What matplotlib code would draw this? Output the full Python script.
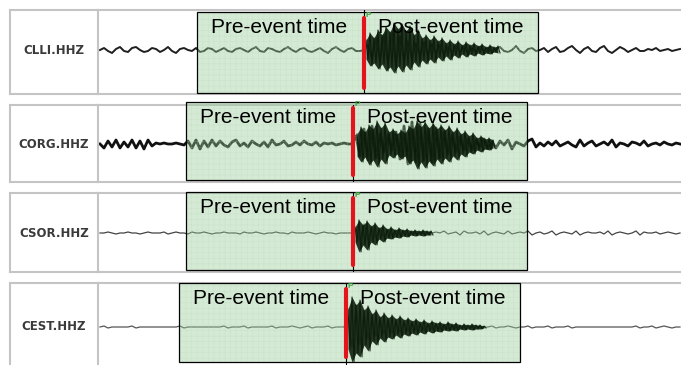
import numpy as np
import matplotlib.pyplot as plt
from matplotlib.patches import Rectangle

plt.rcParams['font.family'] = ['Liberation Sans', 'DejaVu Sans']
plt.rcParams['hatch.linewidth'] = 0.4

W, H = 681, 365

# ---- data -------------------------------------------------------------
stations = ['CLLI.HHZ', 'CORG.HHZ', 'CSOR.HHZ', 'CEST.HHZ']
dt = 1.0                                  # s per sample
pick_times = [66.0, 63.25, 63.25, 61.5]   # P pick, s after trace start
pre_window = 41.75                        # s before pick
post_window = 43.5                        # s after pick

clli = [0, 2, -1, -3, 1, 3, -1, -2, 2, 3, 0, -2, -1, 2, 1, -2, 0, 3, -1, -3, 1, 2, 0, -1, 2,
        -2, -1, 2, 1, -2, 0, 2, -1, -2, 1, 2, 0, -2, 1, 3, -1, -2, 2, 1, -1, -2, 1, 3, 0, -2,
        1, 2, -1, -2, 0, 2, -1, -3, 1, 3, 0, -2, 1, 2, -1, -1, 0,
        5, -8, 12, -10, 15, -14, 18, -16, 14, -10, 9, -8, 7, -6, 8, -5, 6, -4, 5, -4, 3, -3,
        4, -2, 3, -3, 2, -2, 3, -1, 2, -2,
        1, 3, -1, -2, 0, 4, -1, -3, 1, 2, -1, 0, 2, -2, 1, 3, -2, -1, 2, 4, 0, -3, 1, 3, -1,
        -2, 2, 4, -1, -3, 0, 3, 1, -2, 0, 2, -1, -1, 1, 0, 2, -1, 0, 1, -1, 0, 1]
corg = [0, -4, 3, -3, 4, -4, 2, -3, 4, -4, 3, -5, 4, -2, 1,
        0, 1, 0, 0, 1, 0, -1,
        3, -4, 4, -5, 3, -3, 4, -2, 3, -1, -3, 2, 4, -2,
        1, -3, 3, 0, -2, 2, -3, 4, -1, 0, 3, -2, -1, 2, -1, 3, 0, -1, 2, -2,
        1, 0, 1, -1, 0, 1, 0, 0,
        8, -12, 15, -16, 18, -14, 10, -8, 9, -6, 12, -15, 18, -20, 22, -18, 20, -16, 15, -18,
        16, -14, 12, -10, 9, -8, 7, -6, 5, -6, 4, -3, 5, -4,
        2, -4, 3, -1, 4, -5, 2, 0, -2, 3, 5, -3, 1, -2, 2, -1, 3, -2, 0, 2, -1, -3, 4, -2,
        1, 3, -2, 0, 2, -1, 4, -3, 1, 0, -2, 2, 1, -1, 3, -2, 0, 1, -1, 2, 0, -1, 1, 0]
csor = [0, 0, 1, 0, -1, 0, 0, 1, 0, 0, -1, 0, 1, 0, 0, 0, 1, -1, 0, 1, 0, 0, -1, 1, 0, 0,
        1, 0, -1, 0, 0, 1, 0, 0, 0, -1, 1, 0, 0, 1, 0, -1, 0, 0, 1, 0, 0, -1, 1, 0, 0, 0,
        1, 0, -1, 0, 1, 0, 0, -1, 0, 0, 0, 0,
        4, -8, 9, -7, 6, -5, 5, -4, 3, -3, 3, -2, 2, -2, 2, -1, 1, -1, 1, 0, 1,
        0, 2, -1, 0, 1, -2, 2, 0, 0, 1, -1, 2, -2, 0, 1, 0, -1, 2, -1, 0, 1, 0, 2, -2, 0,
        1, -1, 0, 2, -2, 0, 1, 0, -1, 2, -2, 0, 1, 0, 0, 1, -1, 2, -2, 0, 1, 0, -1, 0, 2,
        -2, 1, 0, 0, 1, -1, 0, 1, 0, -1, 0]
cest = [0, 1, -1, 0, 0, 0, 0, 0, 1, -1, 0, 0, 0, 0, 0, 0, 0, 0, 0, 0, 1, -1, 0, 0, 0, 0,
        0, 0, 0, 0, 0, 1, -1, 0, 0, 0, 1, -1, 0, 0, 0, 0, 0, 1, -1, 0, 0, 0, 1, 0, -1, 0,
        1, -1, 0, 0, 0, 1, -1, 0, 0, 0,
        10, -20, 22, -18, 14, -12, 10, -9, 8, -7, 6, -6, 5, -5, 4, -4, 4, -3, 3, -3, 2, -2,
        2, -2, 2, -2, 1, -1, 1, -1, 1, -1, 1, 0, 0,
        0, 1, -1, 0, 0, 1, 0, -1, 0, 0, 1, -1, 0, 0, 0, 1, -1, 0, 0, 0, 1, -1, 0, 0, 0, 0,
        0, 0, 0, 0, 0, 0, 0, 0, 0, 0, 0, 1, -1, 0, 0, 1, -1, 0, 1, 0, -1, 0, 0]

# peaks of the dense coda (upper / lower), sampled every dt from env_start
env_start = [66.5, 64.25, 63.75, 62.0]
clli_up = [10, 17, 12, 20, 15, 23, 18, 27, 21, 26, 19, 24, 15, 20, 12, 15, 10, 14, 9, 12,
           7, 10, 6, 9, 5, 8, 5, 7, 4, 6, 3, 5, 3, 4]
clli_lo = [-9, -16, -13, -19, -14, -21, -17, -23, -16, -22, -15, -20, -12, -17, -10, -14,
           -9, -13, -7, -11, -6, -10, -5, -8, -4, -7, -4, -6, -3, -5, -3, -4, -2, -3]
corg_up = [10, 17, 12, 19, 15, 23, 16, 21, 12, 15, 10, 14, 11, 18, 15, 23, 17, 22, 16, 21,
           15, 19, 14, 18, 12, 16, 10, 13, 8, 11, 6, 8, 5, 6, 4]
corg_lo = [-12, -18, -13, -21, -16, -23, -15, -20, -11, -14, -10, -15, -12, -20, -16, -25,
           -18, -24, -17, -22, -15, -20, -14, -18, -12, -16, -10, -13, -8, -10, -6, -8,
           -5, -6, -4]
csor_up = [6, 13, 8, 12, 7, 10, 5, 8, 4, 6, 3, 5, 3, 4, 2, 3, 2, 3, 2, 2]
csor_lo = [-9, -19, -12, -17, -9, -12, -6, -9, -5, -6, -4, -5, -3, -4, -2, -3, -2, -3,
           -2, -2]
cest_up = [18, 30, 22, 27, 17, 21, 13, 17, 10, 14, 9, 12, 8, 11, 7, 9, 6, 8, 5, 7, 4, 6,
           4, 5, 3, 5, 3, 4, 2, 3, 2, 3, 2, 2, 1]
cest_lo = [-22, -35, -26, -30, -18, -24, -14, -18, -11, -15, -10, -12, -8, -11, -7, -9,
           -6, -8, -5, -7, -4, -6, -4, -5, -3, -4, -3, -4, -2, -3, -2, -3, -2, -2, -1]

traces = [clli, corg, csor, cest]
env_up = [clli_up, corg_up, csor_up, cest_up]
env_lo = [clli_lo, corg_lo, csor_lo, cest_lo]

# ---- layout (pixels) --------------------------------------------------
row_top = [10, 105, 193, 283]
row_bot = [94, 182, 272, 372]
base_px = [50, 144, 233, 327]
box_top = [12, 102, 192, 283]
box_bot = [93, 180, 270, 362]
line_w = [1.4, 2.0, 0.9, 0.9]
line_c = ['#1e1e1e', '#111111', '#444444', '#555555']
grid_c = '#c4c4c4'
coda_c = '#0b1c0b'

fig = plt.figure(figsize=(W / 100, H / 100), dpi=100)

for i in range(4):
    top, bot, base = row_top[i], row_bot[i], base_px[i]
    # station column
    lax = fig.add_axes([10 / W, 1 - bot / H, 88 / W, (bot - top) / H])
    lax.set_xticks([])
    lax.set_yticks([])
    lax.spines['right'].set_visible(False)
    for s in ['left', 'top', 'bottom']:
        lax.spines[s].set_color(grid_c)
        lax.spines[s].set_linewidth(1.5)
    lax.text(0.5, (bot - base) / (bot - top), stations[i], transform=lax.transAxes,
             ha='center', va='center', fontsize=8.5, fontweight='bold',
             family='DejaVu Sans', color='#3a3a3a')

    # trace panel: 4 px per second, 1 count per px
    ax = fig.add_axes([98 / W, 1 - bot / H, (690 - 98) / W, (bot - top) / H])
    ax.set_xlim(-0.5, 147.5)
    ax.set_ylim(base - bot, base - top)
    ax.set_xticks([])
    ax.set_yticks([])
    ax.spines['right'].set_visible(False)
    for s in ['left', 'top', 'bottom']:
        ax.spines[s].set_color(grid_c)
        ax.spines[s].set_linewidth(1.5)

    y = np.array(traces[i])
    t = np.arange(len(y)) * dt
    ax.plot(t, y, color=line_c[i], lw=line_w[i], zorder=2)

    pick = pick_times[i]
    x0 = pick - pre_window
    yb = base - box_bot[i]
    hb = box_bot[i] - box_top[i]
    ax.add_patch(Rectangle((x0, yb), pre_window + post_window, hb,
                           facecolor=(0.59, 0.80, 0.59), alpha=0.4, lw=0,
                           zorder=3, clip_on=False))
    ax.add_patch(Rectangle((x0, yb), pre_window + post_window, hb,
                           fill=False, hatch='+++', edgecolor='#b4d4b4', lw=0,
                           alpha=0.35, zorder=3, clip_on=False))

    # dense coda: filled between peaks, plus the zig-zag through them
    up = np.array(env_up[i])
    lo = np.array(env_lo[i])
    te = env_start[i] + np.arange(len(up)) * dt
    ax.fill_between(te, lo, up, color=coda_c, alpha=0.88, lw=0, zorder=4)
    tz = np.column_stack([te, te + dt / 2]).ravel()
    yz = np.column_stack([up, lo]).ravel()
    ax.plot(tz, yz, color=coda_c, lw=0.8, alpha=0.9, zorder=4)

    ax.add_patch(Rectangle((x0, yb), pre_window + post_window, hb,
                           fill=False, edgecolor='black', lw=0.9,
                           zorder=5, clip_on=False))

    ax.axvline(pick, color='black', lw=0.8, zorder=5)
    ax.plot([pick, pick], [base - box_top[i] - 6, base - box_bot[i] + 5],
            color='#e3141b', lw=3.0, solid_capstyle='round', zorder=6)
    ax.text(pick + 0.4, base - box_top[i] + 0.5, 'P', color='#3aa63a',
            fontsize=6, fontweight='bold', va='top', ha='left', zorder=7)

    ty = base - box_top[i] - 21
    ax.text(x0 + 3.5, ty, 'Pre-event time', fontsize=15, va='baseline',
            ha='left', color='black', zorder=7)
    ax.text(pick + 3.4, ty, 'Post-event time', fontsize=15, va='baseline',
            ha='left', color='black', zorder=7)

fig.savefig('out.png', dpi=100)
